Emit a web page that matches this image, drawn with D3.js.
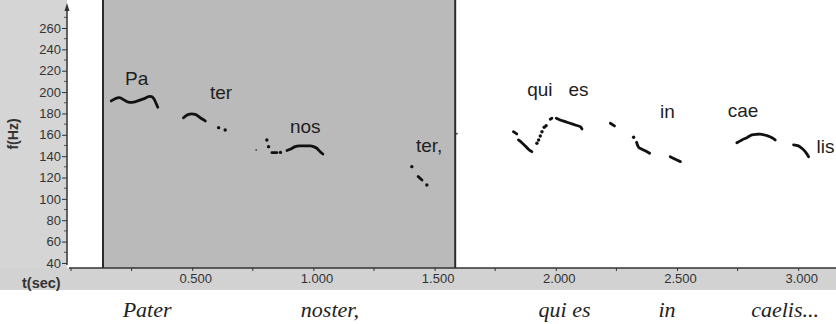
<!DOCTYPE html>
<html><head><meta charset="utf-8">
<script src="https://cdn.jsdelivr.net/npm/d3@7"></script>
<style>
html,body{margin:0;padding:0;background:#fff;}
svg{display:block;}
</style></head>
<body><svg id="c" width="836" height="324"></svg>
<script>
// ---- data (time in s, f0 in Hz) ----
const yTicks = [40,60,80,100,120,140,160,180,200,220,240,260];
const yMinor = [50,70,90,110,130,150,170,190,210,230,250,270];
const xTicks = [0.5,1.0,1.5,2.0,2.5,3.0];
const xMinor = [0,0.25,0.75,1.25,1.75,2.25,2.75];
const selection = [0.132, 1.585];

const segPa  = [[0.166,191.7],[0.182,193.8],[0.200,194.8],[0.219,192.6],[0.237,190.5],[0.258,190.5],[0.278,192],[0.299,193.6],[0.320,195.7],[0.334,195.7],[0.343,193.3],[0.351,189.5],[0.358,185.8]];
const segTer = [[0.464,176],[0.485,179.2],[0.512,179.2],[0.533,176],[0.554,173]];
const segNos = [[0.891,145.3],[0.904,146.4],[0.925,148.9],[0.946,149.6],[0.966,149.6],[0.987,149.6],[1.0,148.9],[1.014,147.4],[1.028,144.2],[1.039,142]];
const segNos2 = [[0.829,143.3],[0.849,143.3]];
const segTer2 = [[1.432,121],[1.448,117.7]];
const segQui1 = [[1.825,162.9],[1.839,160.8]];
const segQui2 = [[1.846,155.2],[1.860,152.6],[1.874,149.6],[1.887,146.5],[1.901,144.2]];
const segQui3 = [[1.977,174.6],[1.984,175.5]];
const segEs  = [[2.002,175.5],[2.018,173.9],[2.039,172.3],[2.059,170.8],[2.080,169.2],[2.101,167.6],[2.108,165.5]];
const segEs2 = [[2.225,170.8],[2.242,168.3]];
const segIn  = [[2.333,153],[2.342,148.3],[2.355,146.5],[2.369,145.1],[2.387,142.7]];
const segIn2 = [[2.472,139.5],[2.493,137.1],[2.514,134.9]];
const segCae = [[2.747,152.6],[2.768,155.2],[2.788,157.3],[2.809,159.9],[2.830,160.5],[2.850,160.5],[2.871,159.2],[2.892,157.3],[2.905,155.2]];
const segLis = [[2.981,150.5],[3.001,149.6],[3.015,147.4],[3.029,144.2],[3.043,139.5]];
const singleDots = [[0.609,166.7],[0.636,164.5],[0.808,155.2],[0.815,148.9],[0.864,143.5],[1.406,130.2],[1.468,113],
  [1.922,152.1],[1.929,155.2],[1.936,158.9],[1.943,162.9],[1.952,167],[1.960,168.5],[2.321,157.7]];
const faintDots = [[0.764,145.8],[1.592,161]];

const syllables = ["Pa","ter","nos","ter,","qui","es","in","cae","lis"];
const sylT = [0.223,0.573,0.903,1.423,1.882,2.052,2.430,2.709,3.076];
const sylF = [206.7,193.6,161.4,143.5,196.4,196.4,175.5,177,142.7];

const words = ["Pater","noster,","qui es","in","caelis..."];
const wordT = [0.314,1.068,2.036,2.459,2.946];

// ---- drawing ----
const W = 836, H = 324;
const svg = d3.select("#c");
const x = d3.scaleLinear().domain([0,3.2]).range([71, 71+3.2*242.4]);
const y = d3.scaleLinear().domain([35,282]).range([268.3, 268.3-247*1.068]);
const axisX = 67, axisY = 268;

// backgrounds
svg.append("rect").attr("x",0).attr("y",0).attr("width",W).attr("height",H).attr("fill","#fff");
svg.append("rect").attr("x",0).attr("y",0).attr("width",axisX).attr("height",290).attr("fill","#d5d5d5");
svg.append("rect").attr("x",0).attr("y",axisY).attr("width",W).attr("height",290-axisY).attr("fill","#d2d2d2");

// selection
svg.append("rect").attr("x",x(selection[0])).attr("y",0)
  .attr("width",x(selection[1])-x(selection[0])).attr("height",axisY)
  .attr("fill","#bababa");
selection.forEach(s=>{
  svg.append("line").attr("x1",x(s)).attr("x2",x(s)).attr("y1",0).attr("y2",axisY)
    .attr("stroke","#2b2b2b").attr("stroke-width",2);
});

// y axis
const gy = svg.append("g").attr("transform",`translate(${axisX},0)`);
gy.call(d3.axisLeft(y).tickValues(yTicks).tickSize(5).tickPadding(1).tickFormat(d3.format("d")));
gy.select(".domain").remove();
gy.selectAll("text").attr("font-family","Liberation Sans, Arial, sans-serif").attr("font-size",13).attr("fill","#333");
gy.selectAll(".tick line").attr("stroke","#333");
gy.selectAll(".minor").data(yMinor).enter().append("line")
  .attr("x1",-3).attr("x2",0).attr("y1",d=>y(d)).attr("y2",d=>y(d)).attr("stroke","#555");
gy.append("line").attr("x1",0).attr("x2",0).attr("y1",y(40)+2).attr("y2",6).attr("stroke","#333").attr("stroke-width",1.5);
gy.append("path").attr("d","M0,3 L-2.5,11 L2.5,11 Z").attr("fill","#333");

// x axis
const gx = svg.append("g").attr("transform",`translate(0,${axisY})`);
gx.call(d3.axisBottom(x).tickValues(xTicks).tickSize(3).tickPadding(3).tickFormat(d3.format(".3f")));
gx.select(".domain").remove();
gx.selectAll("text").attr("font-family","Liberation Sans, Arial, sans-serif").attr("font-size",13).attr("fill","#333").attr("dx",3);
gx.selectAll(".tick line").attr("stroke","#333");
gx.selectAll(".minor").data(xMinor).enter().append("line")
  .attr("x1",d=>x(d)).attr("x2",d=>x(d)).attr("y1",0).attr("y2",3).attr("stroke","#333");
svg.append("line").attr("x1",axisX+2).attr("x2",W).attr("y1",axisY).attr("y2",axisY).attr("stroke","#333").attr("stroke-width",1.5);

// axis titles
svg.append("text").attr("transform","translate(18,134) rotate(-90)").attr("text-anchor","middle")
  .attr("font-family","Liberation Sans, Arial, sans-serif").attr("font-weight","bold").attr("font-size",14).attr("fill","#333").text("f(Hz)");
svg.append("text").attr("x",22).attr("y",288)
  .attr("font-family","Liberation Sans, Arial, sans-serif").attr("font-weight","bold").attr("font-size",14.5).attr("fill","#333").text("t(sec)");

// pitch contour
const segs = [segPa,segTer,segNos,segNos2,segTer2,segQui1,segQui2,segQui3,segEs,segEs2,segIn,segIn2,segCae,segLis];
const line = d3.line().x(d=>x(d[0])).y(d=>y(d[1])).curve(d3.curveCatmullRom);
svg.append("g").selectAll("path").data(segs).enter().append("path")
  .attr("d",line).attr("fill","none").attr("stroke","#111").attr("stroke-width",2.8).attr("stroke-linecap","round");
svg.append("g").selectAll("circle").data(singleDots).enter().append("circle")
  .attr("cx",d=>x(d[0])).attr("cy",d=>y(d[1])).attr("r",1.7).attr("fill","#111");
svg.append("g").selectAll("circle").data(faintDots).enter().append("circle")
  .attr("cx",d=>x(d[0])).attr("cy",d=>y(d[1])).attr("r",0.9).attr("fill","#444");

// syllable labels
svg.append("g").selectAll("text").data(syllables).enter().append("text")
  .attr("x",(d,i)=>x(sylT[i])).attr("y",(d,i)=>y(sylF[i]))
  .attr("font-family","Liberation Sans, Arial, sans-serif").attr("font-size",19).attr("fill","#1e1e1e").text(d=>d);

// word labels
svg.append("g").selectAll("text").data(words).enter().append("text")
  .attr("x",(d,i)=>x(wordT[i])).attr("y",317).attr("text-anchor","middle")
  .attr("font-family","Liberation Serif, Times New Roman, serif").attr("font-style","italic").attr("font-size",22).attr("fill","#222").text(d=>d);
</script></body></html>
